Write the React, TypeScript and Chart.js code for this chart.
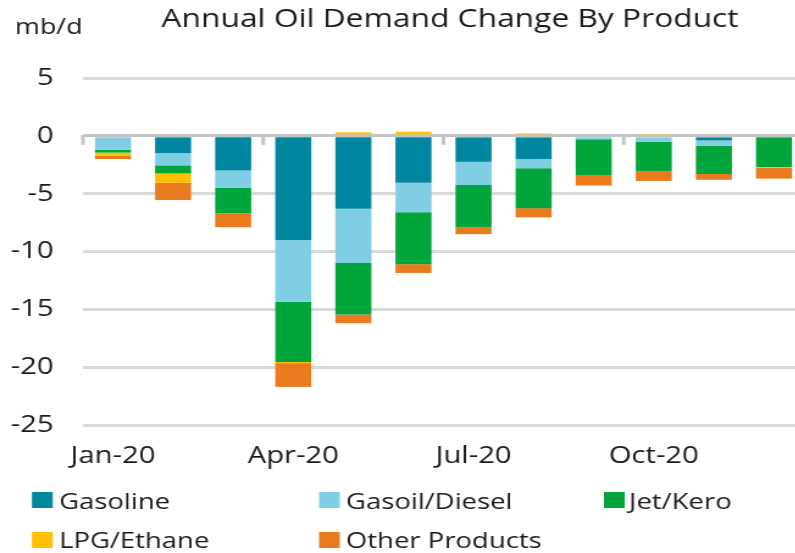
import React, { useEffect, useRef } from 'react';
import { Chart, registerables } from 'chart.js';

Chart.register(...registerables);

// ---- data ----
const months = ['Jan-20', 'Feb-20', 'Mar-20', 'Apr-20', 'May-20', 'Jun-20', 'Jul-20', 'Aug-20', 'Sep-20', 'Oct-20', 'Nov-20', 'Dec-20'];
const shownMonths = ['Jan-20', 'Apr-20', 'Jul-20', 'Oct-20'];
const gasoline = [0, -1.5, -3.0, -9.0, -6.3, -4.05, -2.25, -2.0, 0, 0, -0.4, 0];
const gasoilDiesel = [-1.2, -1.05, -1.5, -5.35, -4.7, -2.55, -2.0, -0.8, -0.3, -0.5, -0.45, 0];
const jetKero = [-0.25, -0.7, -2.2, -5.2, -4.45, -4.5, -3.65, -3.45, -3.1, -2.55, -2.45, -2.7];
const lpgEthane = [-0.25, -0.8, 0, -0.1, 0.3, 0.35, 0, 0.2, 0, 0.1, 0, -0.05];
const otherProducts = [-0.3, -1.5, -1.2, -2.05, -0.75, -0.75, -0.6, -0.8, -0.9, -0.85, -0.5, -0.95];
const yMin = -25;
const yMax = 5;
const yStep = 5;
const titleText = 'Annual Oil Demand Change By Product';
const unitText = 'mb/d';

const seriesNames = ['Gasoline', 'Gasoil/Diesel', 'Jet/Kero', 'LPG/Ethane', 'Other Products'];
const seriesColors = ['#00869E', '#7FCEE3', '#00A63C', '#FFC000', '#E97B1E'];
const seriesValues = [gasoline, gasoilDiesel, jetKero, lpgEthane, otherProducts];

// ---- layout ----
const S = 1.22; // horizontal stretch of the picture
const W = 668;
const H = 553;
const FONT = '"Open Sans", "Noto Sans", sans-serif';
const TEXT = '#1a1a1a';

const legendSlots = [
  { box: 26.2, text: 48.4, top: 492, base: 509 },
  { box: 261.5, text: 283.6, top: 492, base: 509 },
  { box: 495, text: 515.6, top: 492, base: 509 },
  { box: 26.2, text: 48.4, top: 532, base: 548 },
  { box: 261.5, text: 283.6, top: 532, base: 548 },
];

const decorPlugin = {
  id: 'decor',
  beforeDatasetsDraw(chart: any) {
    const { ctx, scales } = chart;
    const x = scales.x;
    const y0 = scales.y.getPixelForValue(0);
    ctx.save();
    ctx.strokeStyle = '#c4c4c4';
    ctx.lineWidth = 3;
    for (const b of [-0.5, 2.5, 5.5, 8.5, 11.5]) {
      const lo = Math.floor(b);
      const hi = Math.ceil(b);
      const px = lo < 0
        ? x.getPixelForValue(0) - (x.getPixelForValue(1) - x.getPixelForValue(0)) / 2
        : hi > months.length - 1
          ? x.getPixelForValue(months.length - 1) + (x.getPixelForValue(1) - x.getPixelForValue(0)) / 2
          : (x.getPixelForValue(lo) + x.getPixelForValue(hi)) / 2;
      ctx.beginPath();
      ctx.moveTo(px, y0 - 1);
      ctx.lineTo(px, y0 + 9);
      ctx.stroke();
    }
    ctx.restore();
  },
  afterDraw(chart: any) {
    const { ctx } = chart;
    ctx.save();
    ctx.fillStyle = TEXT;
    ctx.textBaseline = 'alphabetic';
    ctx.textAlign = 'center';
    ctx.font = `26px ${FONT}`;
    ctx.fillText(titleText, 450 / S, 27);
    ctx.textAlign = 'left';
    ctx.font = `22px ${FONT}`;
    ctx.fillText(unitText, 15 / S, 34);
    ctx.font = `22.5px ${FONT}`;
    chart.data.datasets.forEach((ds: any, i: number) => {
      const slot = legendSlots[i];
      ctx.fillStyle = ds.backgroundColor;
      ctx.fillRect(slot.box, slot.top, 17, 16);
      ctx.fillStyle = TEXT;
      ctx.fillText(ds.label, slot.text, slot.base);
    });
    ctx.restore();
  },
};

export default function App() {
  const ref = useRef<HTMLCanvasElement>(null);

  useEffect(() => {
    if (!ref.current) return;
    const chart = new Chart(ref.current, {
      type: 'bar',
      data: {
        labels: months,
        datasets: seriesNames.map((name, i) => ({
          label: name,
          data: seriesValues[i],
          backgroundColor: seriesColors[i],
          borderWidth: 0,
          categoryPercentage: 1,
          barPercentage: 0.6,
        })),
      },
      options: {
        responsive: false,
        animation: false,
        devicePixelRatio: 1,
        layout: { padding: { left: 0, right: 9, top: 78, bottom: 0 } },
        plugins: {
          legend: { display: false },
          title: { display: false },
          tooltip: { enabled: false },
        },
        scales: {
          x: {
            stacked: true,
            grid: { display: false, drawTicks: false },
            border: { display: false },
            ticks: {
              autoSkip: false,
              maxRotation: 0,
              padding: 17,
              color: TEXT,
              font: { family: FONT, size: 24 },
              callback: (_v: any, i: number) => (shownMonths.includes(months[i]) ? months[i] : ''),
            },
            afterFit: (s: any) => { s.height = 128; },
          },
          y: {
            stacked: true,
            min: yMin,
            max: yMax,
            ticks: {
              stepSize: yStep,
              padding: 24,
              color: TEXT,
              font: { family: FONT, size: 24 },
            },
            grid: {
              drawTicks: false,
              lineWidth: 3,
              color: (c: any) => (c.tick && c.tick.value === 0 ? '#c4c4c4' : '#d9d9d9'),
            },
            border: { display: false },
            afterFit: (s: any) => { s.width = 68; },
          },
        },
      } as any,
      plugins: [decorPlugin],
    });
    return () => chart.destroy();
  }, []);

  return (
    <div style={{ position: 'fixed', left: 0, top: 0, width: 795, height: 553, overflow: 'hidden', background: '#fff' }}>
      <canvas ref={ref} width={W} height={H} style={{ display: 'block', width: W * S, height: H }} />
    </div>
  );
}
